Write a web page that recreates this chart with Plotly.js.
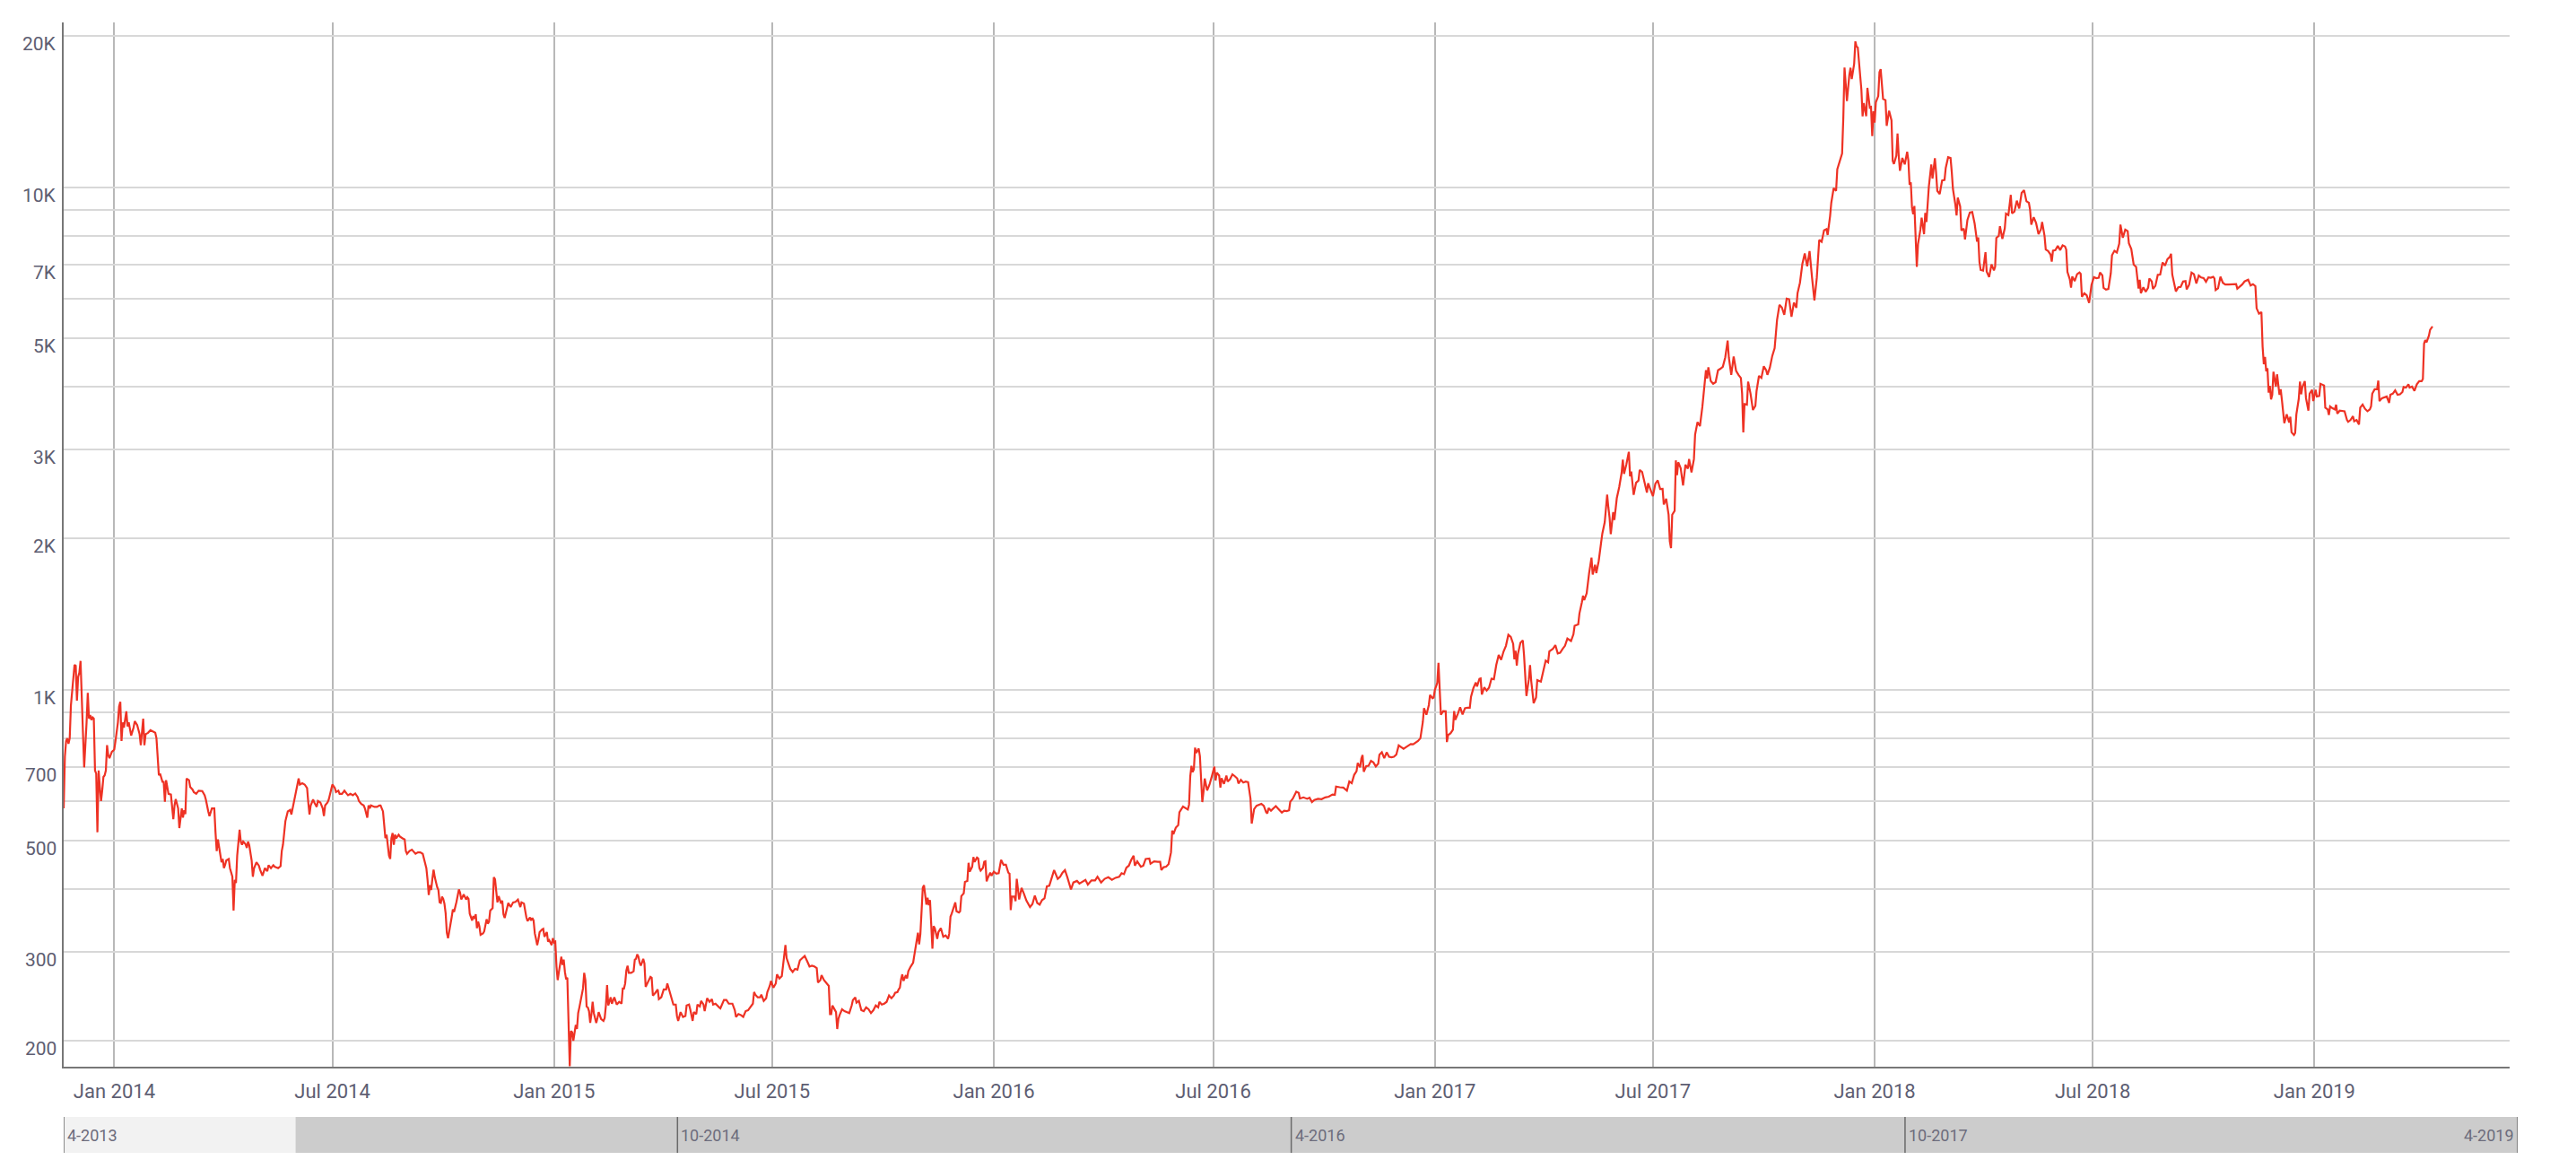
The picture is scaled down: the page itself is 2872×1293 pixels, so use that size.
<!DOCTYPE html>
<html>
<head>
<meta charset="utf-8">
<script src="https://cdn.plot.ly/plotly-3.0.1.min.js"></script>
<style>
  html, body { margin: 0; padding: 0; background: #fff; }
  #chart { width: 2872px; height: 1293px; }
</style>
</head>
<body>
<div id="chart"></div>
<script>
// daily close (USD), one list per year: [month-day, price]
const prices2013 = [["11-20",580],["11-21",735],["11-22",790],["11-23",800],["11-24",780],["11-25",800],["11-26",930],["11-27",1000],["11-28",1060],["11-29",1120],["11-30",1115],["12-01",950],["12-02",1060],["12-03",1080],["12-04",1140],["12-05",1000],["12-06",820],["12-07",700],["12-08",760],["12-09",860],["12-10",985],["12-11",875],["12-12",890],["12-13",870],["12-14",880],["12-15",875],["12-16",690],["12-17",680],["12-18",520],["12-19",690],["12-20",640],["12-21",600],["12-22",630],["12-23",670],["12-24",675],["12-25",690],["12-26",775],["12-27",740],["12-28",730],["12-29",745],["12-30",752],["12-31",755]];

const prices2014 = [["01-01",760],["01-02",790],["01-03",825],["01-04",860],["01-05",925],["01-06",945],["01-07",790],["01-08",860],["01-09",840],["01-10",870],["01-11",905],["01-12",845],["01-13",860],["01-15",810],["01-17",840],["01-18",865],["01-20",850],["01-22",815],["01-23",775],["01-25",875],["01-26",775],["01-27",815],["01-29",820],["01-31",830],["02-02",825],["02-04",820],["02-05",800],["02-06",740],["02-07",675],["02-08",680],["02-10",655],["02-11",655],["02-12",598],["02-13",660],["02-15",620],["02-17",618],["02-19",552],["02-20",588],["02-21",605],["02-23",580],["02-24",530],["02-26",580],["02-27",556],["02-28",575],["03-01",565],["03-02",665],["03-04",660],["03-05",640],["03-07",632],["03-08",625],["03-10",620],["03-12",629],["03-15",628],["03-17",616],["03-18",604],["03-20",572],["03-21",560],["03-23",580],["03-25",580],["03-26",520],["03-27",477],["03-28",503],["03-30",467],["03-31",453],["04-01",460],["04-02",441],["04-03",448],["04-04",457],["04-06",460],["04-07",441],["04-09",424],["04-10",363],["04-11",418],["04-12",412],["04-13",467],["04-15",526],["04-16",498],["04-17",491],["04-18",498],["04-20",492],["04-21",484],["04-22",498],["04-23",490],["04-25",457],["04-26",424],["04-27",441],["04-29",453],["05-01",446],["05-02",438],["05-04",426],["05-06",441],["05-08",435],["05-09",447],["05-11",441],["05-13",447],["05-14",444],["05-17",441],["05-19",445],["05-20",477],["05-21",491],["05-22",518],["05-23",547],["05-25",572],["05-27",576],["05-28",564],["05-30",596],["05-31",620],["06-02",654],["06-03",665],["06-04",647],["06-06",651],["06-08",647],["06-10",637],["06-11",596],["06-12",564],["06-13",588],["06-15",604],["06-16",596],["06-18",584],["06-19",600],["06-21",596],["06-23",580],["06-24",560],["06-25",588],["06-27",596],["06-28",604],["06-30",629],["07-01",647],["07-03",637],["07-04",625],["07-06",629],["07-07",620],["07-09",620],["07-11",629],["07-13",620],["07-14",616],["07-16",620],["07-18",616],["07-20",621],["07-22",611],["07-23",600],["07-25",592],["07-27",588],["07-28",580],["07-30",556],["07-31",588],["08-01",580],["08-02",588],["08-05",584],["08-07",584],["08-09",588],["08-10",588],["08-12",572],["08-13",535],["08-14",506],["08-15",514],["08-17",467],["08-18",460],["08-19",506],["08-20",518],["08-21",491],["08-22",514],["08-23",506],["08-25",514],["08-26",510],["08-28",506],["08-30",503],["08-31",477],["09-01",471],["09-03",477],["09-05",480],["09-06",477],["09-08",471],["09-10",474],["09-12",474],["09-14",471],["09-15",460],["09-17",441],["09-18",418],["09-19",390],["09-20",408],["09-21",399],["09-22",420],["09-23",438],["09-24",423],["09-25",411],["09-26",404],["09-27",399],["09-28",377],["09-29",376],["09-30",387],["10-01",383],["10-02",375],["10-03",359],["10-04",328],["10-05",320],["10-06",330],["10-07",336],["10-08",352],["10-09",365],["10-10",361],["10-12",378],["10-13",390],["10-14",400],["10-15",394],["10-16",382],["10-18",391],["10-20",382],["10-21",386],["10-22",383],["10-23",358],["10-25",347],["10-26",354],["10-27",350],["10-28",357],["10-29",335],["10-30",345],["10-31",338],["11-01",325],["11-03",327],["11-04",330],["11-06",349],["11-07",342],["11-08",345],["11-09",363],["11-11",367],["11-12",423],["11-13",419],["11-14",397],["11-15",377],["11-16",388],["11-18",375],["11-19",380],["11-20",357],["11-21",351],["11-23",367],["11-24",376],["11-26",369],["11-28",377],["11-30",378],["12-02",382],["12-04",369],["12-05",377],["12-07",375],["12-08",361],["12-09",352],["12-10",346],["12-12",352],["12-13",347],["12-14",351],["12-15",347],["12-16",327],["12-17",319],["12-18",310],["12-19",318],["12-20",329],["12-22",333],["12-23",334],["12-24",322],["12-26",329],["12-27",315],["12-28",317],["12-30",310],["12-31",320]];

const prices2015 = [["01-01",314],["01-02",315],["01-03",281],["01-04",264],["01-05",274],["01-06",286],["01-07",294],["01-08",283],["01-09",290],["01-10",274],["01-11",265],["01-12",267],["01-13",225],["01-14",178],["01-15",209],["01-16",208],["01-17",200],["01-18",210],["01-19",215],["01-20",211],["01-21",227],["01-22",233],["01-24",248],["01-25",254],["01-26",273],["01-27",264],["01-28",234],["01-29",233],["01-30",229],["01-31",217],["02-01",226],["02-02",239],["02-03",227],["02-05",217],["02-06",222],["02-07",228],["02-09",221],["02-11",219],["02-12",222],["02-13",235],["02-14",258],["02-15",235],["02-17",244],["02-18",237],["02-20",244],["02-22",236],["02-24",239],["02-26",237],["02-27",254],["02-28",254],["03-01",260],["03-02",276],["03-03",282],["03-04",273],["03-06",273],["03-08",275],["03-09",290],["03-10",291],["03-11",297],["03-12",294],["03-13",286],["03-14",282],["03-16",291],["03-17",285],["03-18",256],["03-20",262],["03-22",268],["03-23",267],["03-24",246],["03-26",249],["03-28",253],["03-29",242],["03-31",244],["04-02",253],["04-04",253],["04-05",260],["04-06",255],["04-08",245],["04-10",236],["04-12",236],["04-13",224],["04-14",219],["04-16",228],["04-18",223],["04-20",224],["04-21",235],["04-23",236],["04-24",231],["04-26",219],["04-27",228],["04-29",226],["04-30",236],["05-02",234],["05-03",240],["05-05",236],["05-06",229],["05-08",243],["05-10",239],["05-12",242],["05-13",236],["05-15",237],["05-18",233],["05-19",232],["05-22",241],["05-24",241],["05-26",237],["05-29",237],["05-31",230],["06-01",223],["06-03",226],["06-05",225],["06-07",223],["06-09",229],["06-11",230],["06-13",233],["06-15",237],["06-16",250],["06-17",247],["06-19",244],["06-21",244],["06-22",247],["06-24",240],["06-26",243],["06-27",250],["06-29",257],["06-30",263],["07-02",255],["07-04",260],["07-05",271],["07-07",266],["07-09",269],["07-10",285],["07-11",293],["07-12",310],["07-13",292],["07-14",288],["07-16",278],["07-18",274],["07-20",278],["07-22",277],["07-24",289],["07-26",292],["07-28",295],["07-30",288],["08-01",281],["08-03",282],["08-05",281],["08-07",279],["08-08",261],["08-10",264],["08-11",270],["08-13",264],["08-15",261],["08-17",257],["08-18",226],["08-19",226],["08-20",235],["08-22",231],["08-23",228],["08-24",211],["08-25",221],["08-26",225],["08-28",231],["08-30",229],["09-01",228],["09-03",227],["09-05",235],["09-06",241],["09-08",244],["09-09",238],["09-11",240],["09-13",230],["09-15",229],["09-17",233],["09-19",231],["09-21",227],["09-23",230],["09-25",235],["09-27",233],["09-28",239],["09-30",236],["10-02",237],["10-04",239],["10-06",246],["10-08",243],["10-10",246],["10-11",249],["10-13",250],["10-14",253],["10-15",255],["10-16",265],["10-17",271],["10-18",263],["10-20",270],["10-21",266],["10-22",275],["10-24",281],["10-26",286],["10-27",296],["10-28",305],["10-29",314],["10-30",328],["10-31",311],["11-01",326],["11-02",362],["11-03",403],["11-04",408],["11-05",388],["11-06",373],["11-07",385],["11-08",372],["11-09",381],["11-10",334],["11-11",305],["11-12",338],["11-13",335],["11-15",319],["11-16",329],["11-18",335],["11-20",322],["11-22",324],["11-24",319],["11-25",327],["11-26",353],["11-27",358],["11-29",370],["11-30",377],["12-01",362],["12-03",360],["12-04",362],["12-05",388],["12-07",393],["12-08",414],["12-10",416],["12-11",452],["12-12",434],["12-14",444],["12-15",464],["12-16",454],["12-18",463],["12-19",461],["12-20",441],["12-21",436],["12-23",442],["12-24",454],["12-25",455],["12-26",415],["12-27",422],["12-29",432],["12-30",426],["12-31",430]];

const prices2016 = [["01-01",434],["01-03",430],["01-05",431],["01-07",458],["01-09",448],["01-11",448],["01-13",432],["01-14",430],["01-15",364],["01-16",387],["01-18",387],["01-19",379],["01-20",420],["01-22",382],["01-24",403],["01-26",392],["01-28",380],["01-31",369],["02-02",374],["02-04",389],["02-06",376],["02-08",373],["02-10",381],["02-12",384],["02-14",406],["02-16",407],["02-18",422],["02-20",437],["02-23",420],["02-25",424],["02-27",432],["02-29",437],["03-02",423],["03-05",400],["03-07",413],["03-10",416],["03-12",411],["03-15",416],["03-17",418],["03-19",409],["03-22",417],["03-25",417],["03-27",424],["03-30",413],["04-02",420],["04-05",423],["04-08",418],["04-11",422],["04-14",424],["04-16",431],["04-18",429],["04-20",442],["04-22",446],["04-24",458],["04-26",467],["04-27",446],["04-29",455],["05-02",444],["05-04",446],["05-06",460],["05-09",461],["05-10",450],["05-13",455],["05-16",454],["05-18",454],["05-19",437],["05-21",443],["05-23",444],["05-25",449],["05-27",474],["05-28",524],["05-29",515],["05-31",531],["06-02",537],["06-03",570],["06-06",585],["06-08",580],["06-10",577],["06-11",590],["06-12",672],["06-13",705],["06-14",685],["06-15",694],["06-16",766],["06-17",748],["06-19",763],["06-20",737],["06-21",666],["06-22",597],["06-23",626],["06-24",665],["06-26",630],["06-28",647],["06-30",673],["07-02",702],["07-03",659],["07-04",683],["07-06",674],["07-07",638],["07-08",666],["07-10",649],["07-12",674],["07-13",656],["07-15",663],["07-17",678],["07-19",672],["07-21",665],["07-22",650],["07-24",661],["07-26",653],["07-28",656],["07-30",654],["07-31",624],["08-01",606],["08-02",541],["08-03",566],["08-04",578],["08-06",587],["08-08",589],["08-10",592],["08-12",587],["08-14",570],["08-15",567],["08-16",581],["08-18",574],["08-20",581],["08-22",586],["08-24",579],["08-27",569],["08-29",574],["08-31",573],["09-02",575],["09-03",598],["09-05",606],["09-08",626],["09-10",623],["09-11",607],["09-14",610],["09-17",606],["09-19",609],["09-21",597],["09-23",603],["09-26",606],["09-29",605],["10-02",610],["10-05",612],["10-08",618],["10-10",617],["10-11",641],["10-14",639],["10-17",638],["10-20",629],["10-22",656],["10-24",651],["10-26",676],["10-28",688],["10-29",714],["10-31",700],["11-01",729],["11-02",741],["11-03",686],["11-05",704],["11-07",705],["11-09",721],["11-11",716],["11-13",703],["11-15",712],["11-16",742],["11-18",750],["11-20",730],["11-22",750],["11-24",735],["11-26",733],["11-28",735],["11-30",742],["12-02",774],["12-04",768],["12-06",762],["12-08",768],["12-10",775],["12-12",779],["12-14",778],["12-16",784],["12-18",790],["12-20",800],["12-21",833],["12-22",861],["12-23",918],["12-25",891],["12-27",931],["12-28",975],["12-30",961],["12-31",964]];

const prices2017 = [["01-01",998],["01-02",1018],["01-03",1031],["01-04",1130],["01-05",1006],["01-06",891],["01-08",906],["01-10",905],["01-11",786],["01-12",812],["01-14",818],["01-16",832],["01-17",906],["01-18",870],["01-20",894],["01-22",922],["01-24",892],["01-26",918],["01-28",920],["01-30",920],["01-31",967],["02-02",1007],["02-04",1033],["02-05",1014],["02-07",1050],["02-08",1052],["02-09",977],["02-11",1010],["02-13",995],["02-15",1009],["02-17",1051],["02-19",1048],["02-21",1120],["02-23",1172],["02-25",1146],["02-27",1190],["03-01",1222],["03-03",1285],["03-05",1273],["03-07",1233],["03-08",1149],["03-09",1195],["03-10",1116],["03-11",1178],["03-13",1239],["03-15",1253],["03-16",1172],["03-17",1071],["03-18",971],["03-20",1048],["03-21",1119],["03-22",1039],["03-24",939],["03-26",964],["03-27",1044],["03-30",1037],["04-01",1086],["04-03",1142],["04-05",1133],["04-06",1191],["04-09",1205],["04-11",1226],["04-13",1180],["04-15",1184],["04-17",1204],["04-19",1222],["04-21",1263],["04-24",1249],["04-26",1288],["04-27",1339],["04-30",1348],["05-01",1417],["05-03",1491],["05-04",1537],["05-05",1507],["05-07",1554],["05-09",1703],["05-11",1830],["05-12",1694],["05-14",1771],["05-15",1705],["05-17",1803],["05-19",1963],["05-20",2044],["05-22",2153],["05-23",2272],["05-24",2444],["05-25",2305],["05-26",2200],["05-27",2038],["05-29",2255],["05-30",2175],["06-01",2404],["06-03",2529],["06-05",2700],["06-06",2867],["06-07",2686],["06-09",2811],["06-11",2973],["06-12",2657],["06-13",2717],["06-15",2440],["06-17",2580],["06-19",2606],["06-20",2734],["06-22",2710],["06-24",2583],["06-26",2466],["06-27",2575],["06-30",2469],["07-01",2425],["07-03",2568],["07-05",2608],["07-07",2507],["07-09",2508],["07-10",2335],["07-12",2398],["07-14",2227],["07-15",1973],["07-16",1911],["07-17",2228],["07-19",2269],["07-20",2858],["07-21",2670],["07-22",2834],["07-24",2760],["07-26",2547],["07-28",2802],["07-30",2751],["07-31",2875],["08-02",2705],["08-04",2873],["08-05",3218],["08-07",3407],["08-09",3343],["08-11",3650],["08-13",4070],["08-14",4320],["08-15",4160],["08-16",4380],["08-18",4110],["08-20",4060],["08-22",4090],["08-24",4320],["08-26",4350],["08-28",4390],["08-30",4580],["09-01",4950],["09-02",4580],["09-04",4230],["09-06",4600],["09-08",4310],["09-10",4230],["09-12",4170],["09-13",3880],["09-14",3250],["09-15",3700],["09-17",3690],["09-18",4100],["09-20",3880],["09-22",3600],["09-24",3670],["09-25",3930],["09-27",4210],["09-29",4170],["10-01",4400],["10-03",4320],["10-04",4230],["10-06",4370],["10-08",4610],["10-10",4780],["10-12",5440],["10-14",5830],["10-16",5760],["10-18",5570],["10-20",6000],["10-22",5980],["10-24",5520],["10-26",5890],["10-28",5750],["10-29",6150],["10-31",6450],["11-02",7030],["11-04",7380],["11-06",6960],["11-08",7460],["11-10",6620],["11-12",5950],["11-14",6600],["11-15",7280],["11-16",7850],["11-18",7780],["11-20",8200],["11-22",8250],["11-23",8030],["11-25",8750],["11-26",9300],["11-28",9950],["11-30",9830],["12-01",10850],["12-03",11250],["12-05",11670],["12-06",13750],["12-07",17300],["12-08",16050],["12-09",14840],["12-11",16730],["12-12",17280],["12-13",16410],["12-15",17600],["12-16",19500],["12-17",19040],["12-18",18960],["12-19",17610],["12-20",16460],["12-21",15630],["12-22",13830],["12-23",14700],["12-25",13840],["12-26",15760],["12-28",14390],["12-29",14430],["12-30",12630],["12-31",14160]];

const prices2018 = [["01-01",13440],["01-02",14750],["01-04",15180],["01-05",16940],["01-06",17170],["01-07",16200],["01-08",14980],["01-10",14900],["01-11",13240],["01-13",14190],["01-15",13580],["01-16",11280],["01-17",11120],["01-19",11550],["01-20",12780],["01-21",11530],["01-22",10780],["01-24",11430],["01-26",11100],["01-28",11760],["01-29",11290],["01-30",10110],["01-31",10220],["02-01",9110],["02-02",8830],["02-03",9170],["02-04",8210],["02-05",6940],["02-06",7700],["02-08",8240],["02-09",8690],["02-11",8060],["02-12",8890],["02-13",8520],["02-15",10030],["02-17",11090],["02-18",10400],["02-20",11420],["02-21",10690],["02-22",9830],["02-24",9690],["02-26",10310],["02-28",10330],["03-01",10920],["03-03",11470],["03-05",11430],["03-06",10720],["03-07",9910],["03-09",9230],["03-10",8780],["03-11",9530],["03-13",9150],["03-14",8200],["03-16",8270],["03-17",7870],["03-19",8600],["03-21",8900],["03-23",8920],["03-25",8460],["03-27",7790],["03-28",7940],["03-29",7090],["03-30",6840],["04-01",6820],["04-03",7420],["04-04",6790],["04-06",6620],["04-08",7020],["04-10",6830],["04-11",6940],["04-12",7920],["04-14",8000],["04-15",8360],["04-17",7890],["04-19",8280],["04-20",8860],["04-22",8800],["04-24",9650],["04-25",8870],["04-27",8940],["04-29",9400],["05-01",9070],["05-03",9740],["05-05",9860],["05-07",9370],["05-09",9310],["05-10",9010],["05-11",8420],["05-13",8710],["05-15",8480],["05-17",8060],["05-19",8240],["05-20",8520],["05-22",8000],["05-23",7510],["05-25",7460],["05-27",7340],["05-28",7110],["05-29",7470],["05-31",7490],["06-02",7640],["06-04",7490],["06-06",7660],["06-08",7620],["06-09",7510],["06-10",6780],["06-12",6550],["06-13",6310],["06-14",6640],["06-16",6500],["06-18",6710],["06-20",6760],["06-21",6720],["06-22",6050],["06-24",6150],["06-26",6090],["06-28",5880],["06-29",6200],["06-30",6390],["07-02",6620],["07-04",6590],["07-06",6600],["07-07",6760],["07-09",6670],["07-10",6300],["07-12",6250],["07-14",6270],["07-16",6740],["07-17",7320],["07-19",7470],["07-21",7410],["07-23",7720],["07-24",8420],["07-26",7930],["07-28",8230],["07-30",8170],["07-31",7730],["08-02",7530],["08-04",7010],["08-06",6940],["08-08",6280],["08-09",6540],["08-10",6150],["08-12",6320],["08-14",6190],["08-16",6310],["08-17",6580],["08-19",6490],["08-20",6270],["08-22",6360],["08-24",6690],["08-26",6700],["08-28",7080],["08-30",6980],["09-01",7190],["09-03",7260],["09-04",7370],["09-05",6700],["09-07",6410],["09-08",6200],["09-10",6320],["09-12",6330],["09-14",6490],["09-16",6500],["09-17",6260],["09-19",6390],["09-21",6760],["09-23",6710],["09-25",6430],["09-27",6670],["09-29",6610],["10-01",6590],["10-03",6480],["10-05",6610],["10-07",6600],["10-09",6630],["10-10",6580],["10-11",6240],["10-13",6290],["10-15",6630],["10-17",6450],["10-19",6400],["10-22",6400],["10-25",6400],["10-28",6410],["10-29",6280],["10-31",6340],["11-02",6400],["11-04",6490],["11-07",6540],["11-09",6370],["11-11",6410],["11-13",6350],["11-14",5740],["11-16",5600],["11-18",5640],["11-19",4810],["11-20",4440],["11-21",4590],["11-22",4300],["11-23",4360],["11-24",3900],["11-25",4020],["11-26",3780],["11-27",3860],["11-28",4290],["11-30",4010],["12-01",4240],["12-03",3860],["12-04",3960],["12-05",3770],["12-06",3510],["12-07",3390],["12-09",3530],["12-11",3400],["12-12",3490],["12-13",3250],["12-15",3210],["12-16",3240],["12-17",3530],["12-18",3680],["12-19",3790],["12-20",4100],["12-21",3870],["12-22",4000],["12-24",4110],["12-25",3800],["12-27",3590],["12-28",3880],["12-30",3950],["12-31",3750]];

const prices2019 = [["01-01",3870],["01-02",3950],["01-03",3830],["01-05",3840],["01-06",4060],["01-08",4030],["01-09",4030],["01-10",3640],["01-12",3610],["01-13",3520],["01-14",3660],["01-16",3630],["01-18",3610],["01-19",3690],["01-20",3540],["01-22",3590],["01-24",3590],["01-26",3580],["01-28",3440],["01-29",3410],["01-31",3440],["02-02",3500],["02-03",3420],["02-05",3440],["02-07",3370],["02-08",3640],["02-10",3690],["02-12",3620],["02-14",3580],["02-16",3610],["02-17",3660],["02-18",3880],["02-20",3960],["02-22",3960],["02-23",4120],["02-24",3750],["02-26",3800],["02-28",3810],["03-02",3830],["03-04",3720],["03-05",3860],["03-07",3880],["03-09",3940],["03-11",3860],["03-13",3870],["03-15",3910],["03-16",4000],["03-18",3990],["03-20",4050],["03-21",3990],["03-23",4010],["03-25",3930],["03-27",4050],["03-29",4110],["03-31",4110],["04-01",4150],["04-02",4880],["04-03",4960],["04-04",4910],["04-06",5060],["04-07",5200],["04-09",5280]];

const priceYears = [
  [2013, prices2013], [2014, prices2014], [2015, prices2015], [2016, prices2016],
  [2017, prices2017], [2018, prices2018], [2019, prices2019]
];

// y axis (log scale): a grid line at each value, a label only on some
const yTickVals = [200, 300, 400, 500, 600, 700, 800, 900, 1000, 2000, 3000, 4000, 5000, 6000, 7000, 8000, 9000, 10000, 20000];
const yTickText = ["200", "300", "", "500", "", "700", "", "", "1K", "2K", "3K", "", "5K", "", "7K", "", "", "10K", "20K"];

// view window of the main chart
const viewRange = ["2013-11-20", "2019-06-12"];

// navigator strip under the chart
const navRange = ["2013-04-01", "2019-04-01"];
const navWindowStart = "2013-10-25";
const navTickDates = ["2013-04-01", "2014-10-01", "2016-04-01", "2017-10-01", "2019-04-01"];
const navTickLabels = ["4-2013", "10-2014", "4-2016", "10-2017", "4-2019"];

const dates = [];
const prices = [];
priceYears.forEach(([year, rows]) => {
  rows.forEach(([md, p]) => {
    dates.push(year + "-" + md);
    prices.push(p);
  });
});

const labelColor = "#5e5e72";
const font = "Roboto, 'Open Sans', sans-serif";

const trace = {
  x: dates,
  y: prices,
  type: "scatter",
  mode: "lines",
  line: { color: "#ee3224", width: 2.2 },
  hoverinfo: "skip",
  xaxis: "x",
  yaxis: "y",
};

const shapes = [
  { type: "rect", xref: "x2", yref: "y2", x0: navRange[0], x1: navWindowStart, y0: 0, y1: 1,
    fillcolor: "#f2f2f2", line: { width: 0 } },
  { type: "rect", xref: "x2", yref: "y2", x0: navWindowStart, x1: navRange[1], y0: 0, y1: 1,
    fillcolor: "#cccccc", line: { width: 0 } },
];
navTickDates.forEach((d) => {
  shapes.push({ type: "line", xref: "x2", yref: "y2", x0: d, x1: d, y0: 0, y1: 1,
    line: { color: "#6a6a6a", width: 1.5 } });
});

const annotations = navTickDates.map((d, i) => {
  const last = i === navTickDates.length - 1;
  return {
    x: d, y: 0.5, xref: "x2", yref: "y2",
    text: navTickLabels[i],
    showarrow: false,
    xanchor: last ? "right" : "left",
    yanchor: "middle",
    xshift: last ? -2 : 2,
    font: { family: font, size: 18, color: "#6c6c7c" },
  };
});

// y labels sit a little below their grid line, as in the original
yTickVals.forEach((v, i) => {
  if (!yTickText[i]) return;
  annotations.push({
    x: 0, xref: "paper",
    y: Math.log10(v), yref: "y",
    text: yTickText[i],
    showarrow: false,
    xanchor: "right",
    yanchor: "middle",
    xshift: -6,
    yshift: -9,
    font: { family: font, size: 21, color: labelColor },
  });
});

const layout = {
  width: 2872,
  height: 1293,
  margin: { l: 71, r: 65, t: 25, b: 8 },
  paper_bgcolor: "#ffffff",
  plot_bgcolor: "#ffffff",
  showlegend: false,
  font: { family: font, color: labelColor },
  xaxis: {
    type: "date",
    range: viewRange,
    domain: [0, 0.99671],
    anchor: "y",
    dtick: "M6",
    tickformat: "%b %Y",
    ticks: "",
    showgrid: true,
    gridcolor: "#b8b8b8",
    gridwidth: 2,
    showline: true,
    linecolor: "#777777",
    linewidth: 2,
    zeroline: false,
    tickfont: { family: font, size: 22, color: labelColor },
    ticklabelstandoff: 6,
  },
  yaxis: {
    type: "log",
    range: [2.2484, 4.3278],
    domain: [0.0758, 1],
    anchor: "x",
    tickvals: yTickVals,
    ticktext: yTickText,
    showticklabels: false,
    ticks: "",
    showgrid: true,
    gridcolor: "#d8d8d8",
    gridwidth: 2,
    showline: true,
    linecolor: "#777777",
    linewidth: 2,
    zeroline: false,
  },
  xaxis2: {
    type: "date",
    range: navRange,
    domain: [0, 1],
    anchor: "y2",
    visible: false,
  },
  yaxis2: {
    range: [0, 1],
    domain: [0, 0.0317],
    anchor: "x2",
    visible: false,
  },
  shapes: shapes,
  annotations: annotations,
};

Plotly.newPlot("chart", [trace], layout, { displayModeBar: false, staticPlot: true });
</script>
</body>
</html>
